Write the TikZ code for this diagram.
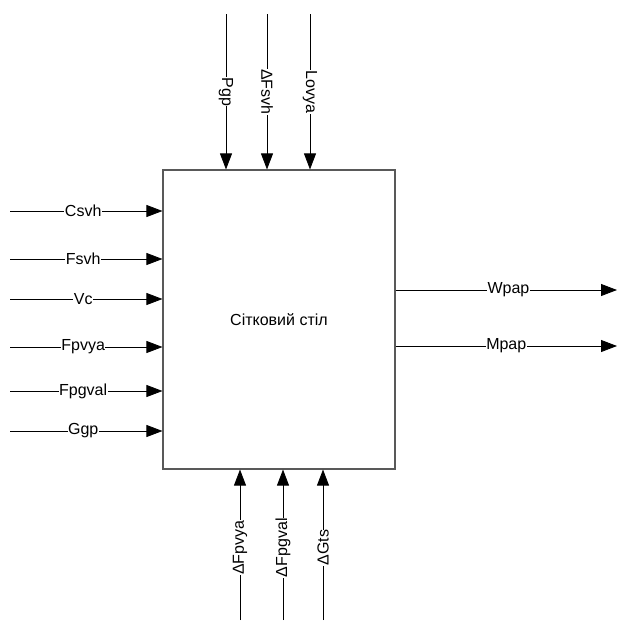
\documentclass[tikz,border=0pt]{standalone}
\usepackage{fontspec}
\setmainfont{Liberation Sans}
\usetikzlibrary{positioning,calc,arrows.meta}
\tikzset{
  figfont/.style={font=\fontsize{16}{19}\selectfont},
  figbox/.style={draw=black!65, line width=1.1pt, minimum width=232pt, minimum height=299pt, inner sep=0pt},
  figarrow/.style={-{Triangle[length=16pt, width=12pt]}, line width=0.8pt},
  figlabel/.style={fill=white, inner sep=0.5pt},
}

\begin{document}
\begin{tikzpicture}[x=1pt, y=-1pt, figfont]
		\useasboundingbox (0,0) rectangle (617,622);

		% Main block
		\node[figbox] (table) at (279,319.5) {Сітковий стіл};

		% Inputs from the left
		\coordinate (csvh) at (10,211);
		\coordinate (fsvh) at (10,259);
		\coordinate (vc) at (10,299);
		\coordinate (fpvya) at (10,347);
		\coordinate (fpgval) at (10,391);
		\coordinate (ggp) at (10,431);
		\draw[figarrow] (csvh) -- (csvh -| table.west) node[figlabel, pos=0.48] {Csvh};
		\draw[figarrow] (fsvh) -- (fsvh -| table.west) node[figlabel, pos=0.48] {Fsvh};
		\draw[figarrow] (vc) -- (vc -| table.west) node[figlabel, pos=0.48] {Vc};
		\draw[figarrow] (fpvya) -- (fpvya -| table.west) node[figlabel, pos=0.48] {Fpvya};
		\draw[figarrow] (fpgval) -- (fpgval -| table.west) node[figlabel, pos=0.48] {Fpgval};
		\draw[figarrow] (ggp) -- (ggp -| table.west) node[figlabel, pos=0.48] {Ggp};

		% Controls from the top
		\coordinate (pgp) at (226,14);
		\coordinate (dfsvh) at (267,14);
		\coordinate (lovya) at (310,14);
		\draw[figarrow] (pgp) -- (pgp |- table.north) node[figlabel, rotate=-90, pos=0.5] {Pgp};
		\draw[figarrow] (dfsvh) -- (dfsvh |- table.north) node[figlabel, rotate=-90, pos=0.5] {ΔFsvh};
		\draw[figarrow] (lovya) -- (lovya |- table.north) node[figlabel, rotate=-90, pos=0.5] {Lovya};

		% Mechanisms from the bottom
		\coordinate (dfpvya) at (240,620);
		\coordinate (dfpgval) at (283,620);
		\coordinate (dgts) at (323,620);
		\draw[figarrow] (dfpvya) -- (dfpvya |- table.south) node[figlabel, rotate=90, pos=0.48] {ΔFpvya};
		\draw[figarrow] (dfpgval) -- (dfpgval |- table.south) node[figlabel, rotate=90, pos=0.48] {ΔFpgval};
		\draw[figarrow] (dgts) -- (dgts |- table.south) node[figlabel, rotate=90, pos=0.48] {ΔGts};

		% Outputs to the right
		\coordinate (wpap) at (617,290);
		\coordinate (mpap) at (617,346);
		\draw[figarrow] (wpap -| table.east) -- (wpap) node[figlabel, pos=0.51] {Wpap};
		\draw[figarrow] (mpap -| table.east) -- (mpap) node[figlabel, pos=0.5] {Mpap};
	\end{tikzpicture}
\end{document}
